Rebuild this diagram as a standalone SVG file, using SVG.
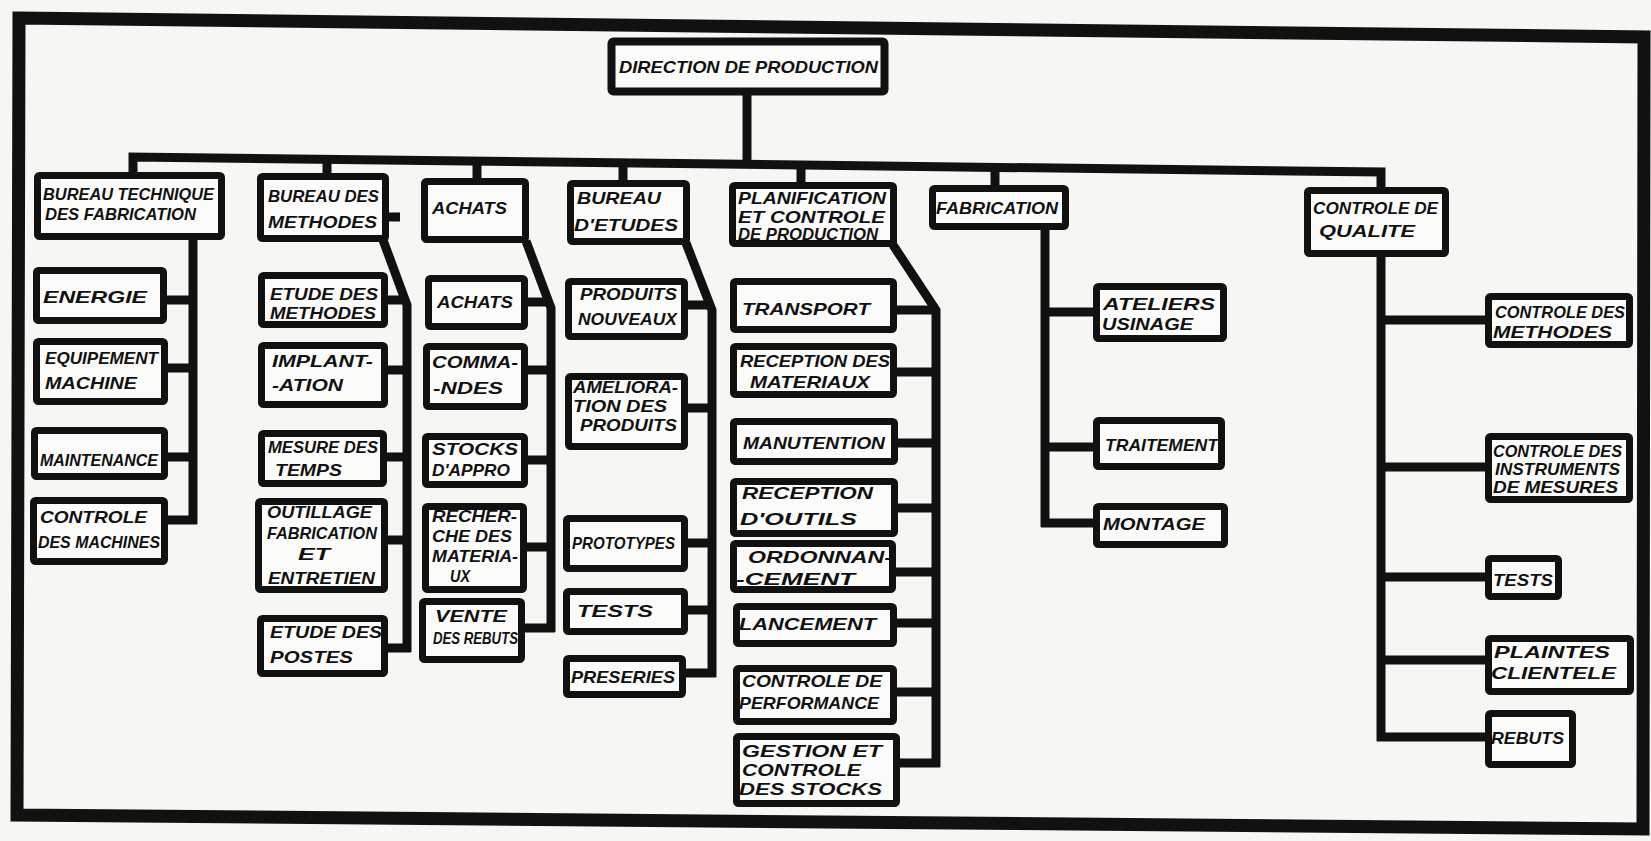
<svg xmlns="http://www.w3.org/2000/svg" width="1651" height="841" viewBox="0 0 1651 841">
  <style>
    .bg { fill: #f6f6f3; }
    .frame { fill: none; stroke: #111; stroke-width: 13; stroke-linejoin: miter; }
    .box { fill: #fbfbf9; stroke: #111; stroke-width: 7; rx: 2; }
    .c { fill: none; stroke: #111; stroke-width: 9; stroke-linejoin: miter; stroke-linecap: butt; }
    text { font-family: "Liberation Sans", Arial, sans-serif; font-style: italic; font-weight: bold; fill: #111; font-size: 17px; }
  </style>
  <rect class="bg" x="0" y="0" width="1651" height="841"/>

  <!-- outer border -->
  <path class="frame" d="M19 18 L1644 37 L1643 829 L17 815 Z"/>

  <!-- connectors -->
  <g id="connectors">
    <path class="c" d="M747 93 V165"/>
    <path class="c" d="M133 175 V157 L1381 172 V190"/>
    <path class="c" d="M327 159 V177"/>
    <path class="c" d="M477 161 V181"/>
    <path class="c" d="M623 163 V183"/>
    <path class="c" d="M801 165 V185"/>
    <path class="c" d="M995 167 V188"/>

    <!-- bureau technique -->
    <path class="c" d="M193 238 V524"/>
    <path class="c" d="M165 300 H193 M165 368 H193 M165 457 H193 M165 520 H197"/>

    <!-- bureau des methodes -->
    <path class="c" d="M383 240 L407 305 V652"/>
    <path class="c" d="M387 217 H400"/>
    <path class="c" d="M386 300 H407 M386 370 H407 M385 457 H407 M386 540 H407 M386 648 H411"/>

    <!-- achats -->
    <path class="c" d="M526 241 L551 308 V632"/>
    <path class="c" d="M526 302 H551 M526 370 H551 M526 460 H551 M525 547 H551 M523 628 H555"/>

    <!-- bureau d'etudes -->
    <path class="c" d="M686 243 L712 310 V677"/>
    <path class="c" d="M686 305 H712 M686 408 H712 M686 543 H712 M686 610 H712 M684 673 H716"/>

    <!-- planification -->
    <path class="c" d="M893 245 L936 310 V767"/>
    <path class="c" d="M895 310 H936 M895 372 H936 M896 443 H936 M896 508 H936 M894 572 H936 M895 623 H936 M895 692 H936 M898 763 H940"/>

    <!-- fabrication -->
    <path class="c" d="M1045 228 V527"/>
    <path class="c" d="M1045 312 H1095 M1045 447 H1095 M1041 523 H1095"/>

    <!-- controle de qualite -->
    <path class="c" d="M1381 255 V741"/>
    <path class="c" d="M1381 320 H1487 M1381 467 H1487 M1381 577 H1487 M1381 660 H1487 M1377 737 H1487"/>
  </g>

  <!-- top -->
  <g id="direction">
    <rect class="box" x="611.5" y="41.5" width="273" height="50" style="stroke-width:8"/>
    <text x="619" y="73" font-size="22" textLength="259" lengthAdjust="spacingAndGlyphs">DIRECTION DE PRODUCTION</text>
  </g>

  <g id="bureau-technique">
    <rect class="box" x="37.5" y="175.5" width="184" height="61"/>
    <text x="43" y="200" font-size="19" textLength="171" lengthAdjust="spacingAndGlyphs">BUREAU TECHNIQUE</text>
    <text x="45" y="220" font-size="19" textLength="151" lengthAdjust="spacingAndGlyphs">DES FABRICATION</text>
  </g>
  <g id="bureau-methodes">
    <rect class="box" x="260.5" y="176.5" width="125" height="62"/>
    <text x="268" y="202" font-size="20" textLength="111" lengthAdjust="spacingAndGlyphs">BUREAU DES</text>
    <text x="268" y="228" font-size="20" textLength="109" lengthAdjust="spacingAndGlyphs">METHODES</text>
  </g>
  <g id="achats">
    <rect class="box" x="424.5" y="181.5" width="101" height="58"/>
    <text x="432" y="214" font-size="21" textLength="75" lengthAdjust="spacingAndGlyphs">ACHATS</text>
  </g>
  <g id="bureau-etudes">
    <rect class="box" x="570.5" y="183.5" width="116" height="58"/>
    <text x="577" y="204" font-size="20" textLength="84" lengthAdjust="spacingAndGlyphs">BUREAU</text>
    <text x="574" y="231" font-size="20" textLength="104" lengthAdjust="spacingAndGlyphs">D'ETUDES</text>
  </g>
  <g id="planification">
    <rect class="box" x="732.5" y="185.5" width="161" height="58"/>
    <text x="738" y="204" font-size="17" textLength="148" lengthAdjust="spacingAndGlyphs">PLANIFICATION</text>
    <text x="738" y="223" font-size="17" textLength="147" lengthAdjust="spacingAndGlyphs">ET CONTROLE</text>
    <text x="738" y="240" font-size="17" textLength="140" lengthAdjust="spacingAndGlyphs">DE PRODUCTION</text>
  </g>
  <g id="fabrication">
    <rect class="box" x="932.5" y="188.5" width="133" height="38"/>
    <text x="936" y="214" font-size="20" textLength="122" lengthAdjust="spacingAndGlyphs">FABRICATION</text>
  </g>
  <g id="controle-qualite">
    <rect class="box" x="1307.5" y="190.5" width="138" height="63"/>
    <text x="1313" y="214" font-size="20" textLength="125" lengthAdjust="spacingAndGlyphs">CONTROLE DE</text>
    <text x="1319" y="237" font-size="20" textLength="96" lengthAdjust="spacingAndGlyphs">QUALITE</text>
  </g>

  <!-- bureau technique children -->
  <g id="energie">
    <rect class="box" x="36.5" y="270.5" width="127" height="50"/>
    <text x="43" y="303" font-size="22" textLength="104" lengthAdjust="spacingAndGlyphs">ENERGIE</text>
  </g>
  <g id="equipement-machine">
    <rect class="box" x="36.5" y="341.5" width="128" height="60"/>
    <text x="45" y="364" font-size="19" textLength="113" lengthAdjust="spacingAndGlyphs">EQUIPEMENT</text>
    <text x="45" y="389" font-size="19" textLength="92" lengthAdjust="spacingAndGlyphs">MACHINE</text>
  </g>
  <g id="maintenance">
    <rect class="box" x="34.5" y="430.5" width="130" height="46"/>
    <text x="40" y="466" font-size="20" textLength="118" lengthAdjust="spacingAndGlyphs">MAINTENANCE</text>
  </g>
  <g id="controle-machines">
    <rect class="box" x="33.5" y="500.5" width="131" height="61"/>
    <text x="40" y="523" font-size="19" textLength="107" lengthAdjust="spacingAndGlyphs">CONTROLE</text>
    <text x="38" y="548" font-size="19" textLength="122" lengthAdjust="spacingAndGlyphs">DES MACHINES</text>
  </g>

  <!-- bureau des methodes children -->
  <g id="etude-methodes">
    <rect class="box" x="261.5" y="275.5" width="123" height="49"/>
    <text x="270" y="300" font-size="17" textLength="108" lengthAdjust="spacingAndGlyphs">ETUDE DES</text>
    <text x="270" y="319" font-size="17" textLength="106" lengthAdjust="spacingAndGlyphs">METHODES</text>
  </g>
  <g id="implantation">
    <rect class="box" x="261.5" y="345.5" width="123" height="59"/>
    <text x="272" y="367" font-size="19" textLength="101" lengthAdjust="spacingAndGlyphs">IMPLANT-</text>
    <text x="272" y="391" font-size="19" textLength="71" lengthAdjust="spacingAndGlyphs">-ATION</text>
  </g>
  <g id="mesure-temps">
    <rect class="box" x="261.5" y="433.5" width="122" height="50"/>
    <text x="268" y="453" font-size="17" textLength="110" lengthAdjust="spacingAndGlyphs">MESURE DES</text>
    <text x="275" y="476" font-size="18" textLength="67" lengthAdjust="spacingAndGlyphs">TEMPS</text>
  </g>
  <g id="outillage">
    <rect class="box" x="258.5" y="501.5" width="126" height="88"/>
    <text x="267" y="518" font-size="16" textLength="105" lengthAdjust="spacingAndGlyphs">OUTILLAGE</text>
    <text x="267" y="539" font-size="16" textLength="110" lengthAdjust="spacingAndGlyphs">FABRICATION</text>
    <text x="298" y="560" font-size="16" textLength="32" lengthAdjust="spacingAndGlyphs">ET</text>
    <text x="268" y="584" font-size="17" textLength="107" lengthAdjust="spacingAndGlyphs">ENTRETIEN</text>
  </g>
  <g id="etude-postes">
    <rect class="box" x="260.5" y="618.5" width="124" height="55"/>
    <text x="270" y="638" font-size="18" textLength="112" lengthAdjust="spacingAndGlyphs">ETUDE DES</text>
    <text x="270" y="663" font-size="18" textLength="83" lengthAdjust="spacingAndGlyphs">POSTES</text>
  </g>

  <!-- achats children -->
  <g id="achats-2">
    <rect class="box" x="428.5" y="278.5" width="96" height="48"/>
    <text x="437" y="308" font-size="19" textLength="76" lengthAdjust="spacingAndGlyphs">ACHATS</text>
  </g>
  <g id="commandes">
    <rect class="box" x="426.5" y="346.5" width="98" height="60"/>
    <text x="432" y="368" font-size="19" textLength="86" lengthAdjust="spacingAndGlyphs">COMMA-</text>
    <text x="433" y="394" font-size="19" textLength="70" lengthAdjust="spacingAndGlyphs">-NDES</text>
  </g>
  <g id="stocks-appro">
    <rect class="box" x="425.5" y="436.5" width="99" height="48"/>
    <text x="432" y="455" font-size="18" textLength="86" lengthAdjust="spacingAndGlyphs">STOCKS</text>
    <text x="432" y="476" font-size="18" textLength="78" lengthAdjust="spacingAndGlyphs">D'APPRO</text>
  </g>
  <g id="recherche-materiaux">
    <rect class="box" x="425.5" y="506.5" width="98" height="83"/>
    <text x="432" y="522" font-size="16" textLength="85" lengthAdjust="spacingAndGlyphs">RECHER-</text>
    <text x="432" y="542" font-size="16" textLength="80" lengthAdjust="spacingAndGlyphs">CHE DES</text>
    <text x="432" y="562" font-size="16" textLength="86" lengthAdjust="spacingAndGlyphs">MATERIA-</text>
    <text x="450" y="582" font-size="11" textLength="20" lengthAdjust="spacingAndGlyphs">UX</text>
  </g>
  <g id="vente-rebuts">
    <rect class="box" x="422.5" y="601.5" width="99" height="58"/>
    <text x="435" y="622" font-size="18" textLength="72" lengthAdjust="spacingAndGlyphs">VENTE</text>
    <text x="433" y="644" font-size="17" textLength="85" lengthAdjust="spacingAndGlyphs">DES REBUTS</text>
  </g>

  <!-- bureau d'etudes children -->
  <g id="produits-nouveaux">
    <rect class="box" x="568.5" y="281.5" width="116" height="55"/>
    <text x="580" y="300" font-size="18" textLength="97" lengthAdjust="spacingAndGlyphs">PRODUITS</text>
    <text x="578" y="325" font-size="18" textLength="99" lengthAdjust="spacingAndGlyphs">NOUVEAUX</text>
  </g>
  <g id="amelioration-produits">
    <rect class="box" x="568.5" y="376.5" width="116" height="70"/>
    <text x="573" y="393" font-size="16" textLength="105" lengthAdjust="spacingAndGlyphs">AMELIORA-</text>
    <text x="573" y="412" font-size="16" textLength="94" lengthAdjust="spacingAndGlyphs">TION DES</text>
    <text x="580" y="431" font-size="16" textLength="97" lengthAdjust="spacingAndGlyphs">PRODUITS</text>
  </g>
  <g id="prototypes">
    <rect class="box" x="566.5" y="518.5" width="118" height="50"/>
    <text x="572" y="549" font-size="18" textLength="103" lengthAdjust="spacingAndGlyphs">PROTOTYPES</text>
  </g>
  <g id="tests-etudes">
    <rect class="box" x="566.5" y="591.5" width="118" height="40"/>
    <text x="577" y="617" font-size="20" textLength="76" lengthAdjust="spacingAndGlyphs">TESTS</text>
  </g>
  <g id="preseries">
    <rect class="box" x="566.5" y="658.5" width="116" height="36"/>
    <text x="571" y="683" font-size="19" textLength="104" lengthAdjust="spacingAndGlyphs">PRESERIES</text>
  </g>

  <!-- planification children -->
  <g id="transport">
    <rect class="box" x="733.5" y="281.5" width="160" height="48"/>
    <text x="742" y="315" font-size="20" textLength="128" lengthAdjust="spacingAndGlyphs">TRANSPORT</text>
  </g>
  <g id="reception-materiaux">
    <rect class="box" x="733.5" y="346.5" width="160" height="48"/>
    <text x="740" y="367" font-size="17" textLength="150" lengthAdjust="spacingAndGlyphs">RECEPTION DES</text>
    <text x="750" y="388" font-size="17" textLength="120" lengthAdjust="spacingAndGlyphs">MATERIAUX</text>
  </g>
  <g id="manutention">
    <rect class="box" x="733.5" y="421.5" width="161" height="40"/>
    <text x="743" y="449" font-size="19" textLength="142" lengthAdjust="spacingAndGlyphs">MANUTENTION</text>
  </g>
  <g id="reception-outils">
    <rect class="box" x="733.5" y="481.5" width="161" height="52"/>
    <text x="742" y="499" font-size="19" textLength="131" lengthAdjust="spacingAndGlyphs">RECEPTION</text>
    <text x="740" y="525" font-size="19" textLength="117" lengthAdjust="spacingAndGlyphs">D'OUTILS</text>
  </g>
  <g id="ordonnancement">
    <rect class="box" x="733.5" y="543.5" width="159" height="46"/>
    <text x="748" y="563" font-size="18" textLength="144" lengthAdjust="spacingAndGlyphs">ORDONNAN-</text>
    <text x="736" y="585" font-size="18" textLength="119" lengthAdjust="spacingAndGlyphs">-CEMENT</text>
  </g>
  <g id="lancement">
    <rect class="box" x="736.5" y="606.5" width="157" height="37"/>
    <text x="739" y="630" font-size="19" textLength="137" lengthAdjust="spacingAndGlyphs">LANCEMENT</text>
  </g>
  <g id="controle-performance">
    <rect class="box" x="736.5" y="668.5" width="157" height="53"/>
    <text x="742" y="687" font-size="17" textLength="140" lengthAdjust="spacingAndGlyphs">CONTROLE DE</text>
    <text x="739" y="709" font-size="17" textLength="140" lengthAdjust="spacingAndGlyphs">PERFORMANCE</text>
  </g>
  <g id="gestion-stocks">
    <rect class="box" x="736.5" y="736.5" width="160" height="67"/>
    <text x="742" y="757" font-size="17" textLength="140" lengthAdjust="spacingAndGlyphs">GESTION ET</text>
    <text x="742" y="776" font-size="17" textLength="119" lengthAdjust="spacingAndGlyphs">CONTROLE</text>
    <text x="739" y="795" font-size="17" textLength="143" lengthAdjust="spacingAndGlyphs">DES STOCKS</text>
  </g>

  <!-- fabrication children -->
  <g id="ateliers-usinage">
    <rect class="box" x="1096.5" y="286.5" width="127" height="52"/>
    <text x="1103" y="310" font-size="18" textLength="112" lengthAdjust="spacingAndGlyphs">ATELIERS</text>
    <text x="1102" y="330" font-size="18" textLength="91" lengthAdjust="spacingAndGlyphs">USINAGE</text>
  </g>
  <g id="traitement">
    <rect class="box" x="1096.5" y="420.5" width="125" height="46"/>
    <text x="1105" y="451" font-size="18" textLength="113" lengthAdjust="spacingAndGlyphs">TRAITEMENT</text>
  </g>
  <g id="montage">
    <rect class="box" x="1096.5" y="506.5" width="128" height="38"/>
    <text x="1103" y="530" font-size="20" textLength="102" lengthAdjust="spacingAndGlyphs">MONTAGE</text>
  </g>

  <!-- controle de qualite children -->
  <g id="controle-methodes">
    <rect class="box" x="1488.5" y="296.5" width="141" height="48"/>
    <text x="1495" y="318" font-size="16" textLength="130" lengthAdjust="spacingAndGlyphs">CONTROLE DES</text>
    <text x="1493" y="338" font-size="17" textLength="119" lengthAdjust="spacingAndGlyphs">METHODES</text>
  </g>
  <g id="controle-instruments">
    <rect class="box" x="1488.5" y="436.5" width="141" height="63"/>
    <text x="1493" y="457" font-size="15" textLength="129" lengthAdjust="spacingAndGlyphs">CONTROLE DES</text>
    <text x="1495" y="475" font-size="15" textLength="125" lengthAdjust="spacingAndGlyphs">INSTRUMENTS</text>
    <text x="1493" y="493" font-size="15" textLength="125" lengthAdjust="spacingAndGlyphs">DE MESURES</text>
  </g>
  <g id="tests-qualite">
    <rect class="box" x="1488.5" y="558.5" width="70" height="38"/>
    <text x="1493" y="586" font-size="19" textLength="60" lengthAdjust="spacingAndGlyphs">TESTS</text>
  </g>
  <g id="plaintes-clientele">
    <rect class="box" x="1488.5" y="638.5" width="142" height="53"/>
    <text x="1494" y="658" font-size="18" textLength="116" lengthAdjust="spacingAndGlyphs">PLAINTES</text>
    <text x="1491" y="679" font-size="18" textLength="125" lengthAdjust="spacingAndGlyphs">CLIENTELE</text>
  </g>
  <g id="rebuts">
    <rect class="box" x="1488.5" y="713.5" width="84" height="51"/>
    <text x="1491" y="744" font-size="19" textLength="73" lengthAdjust="spacingAndGlyphs">REBUTS</text>
  </g>
</svg>
